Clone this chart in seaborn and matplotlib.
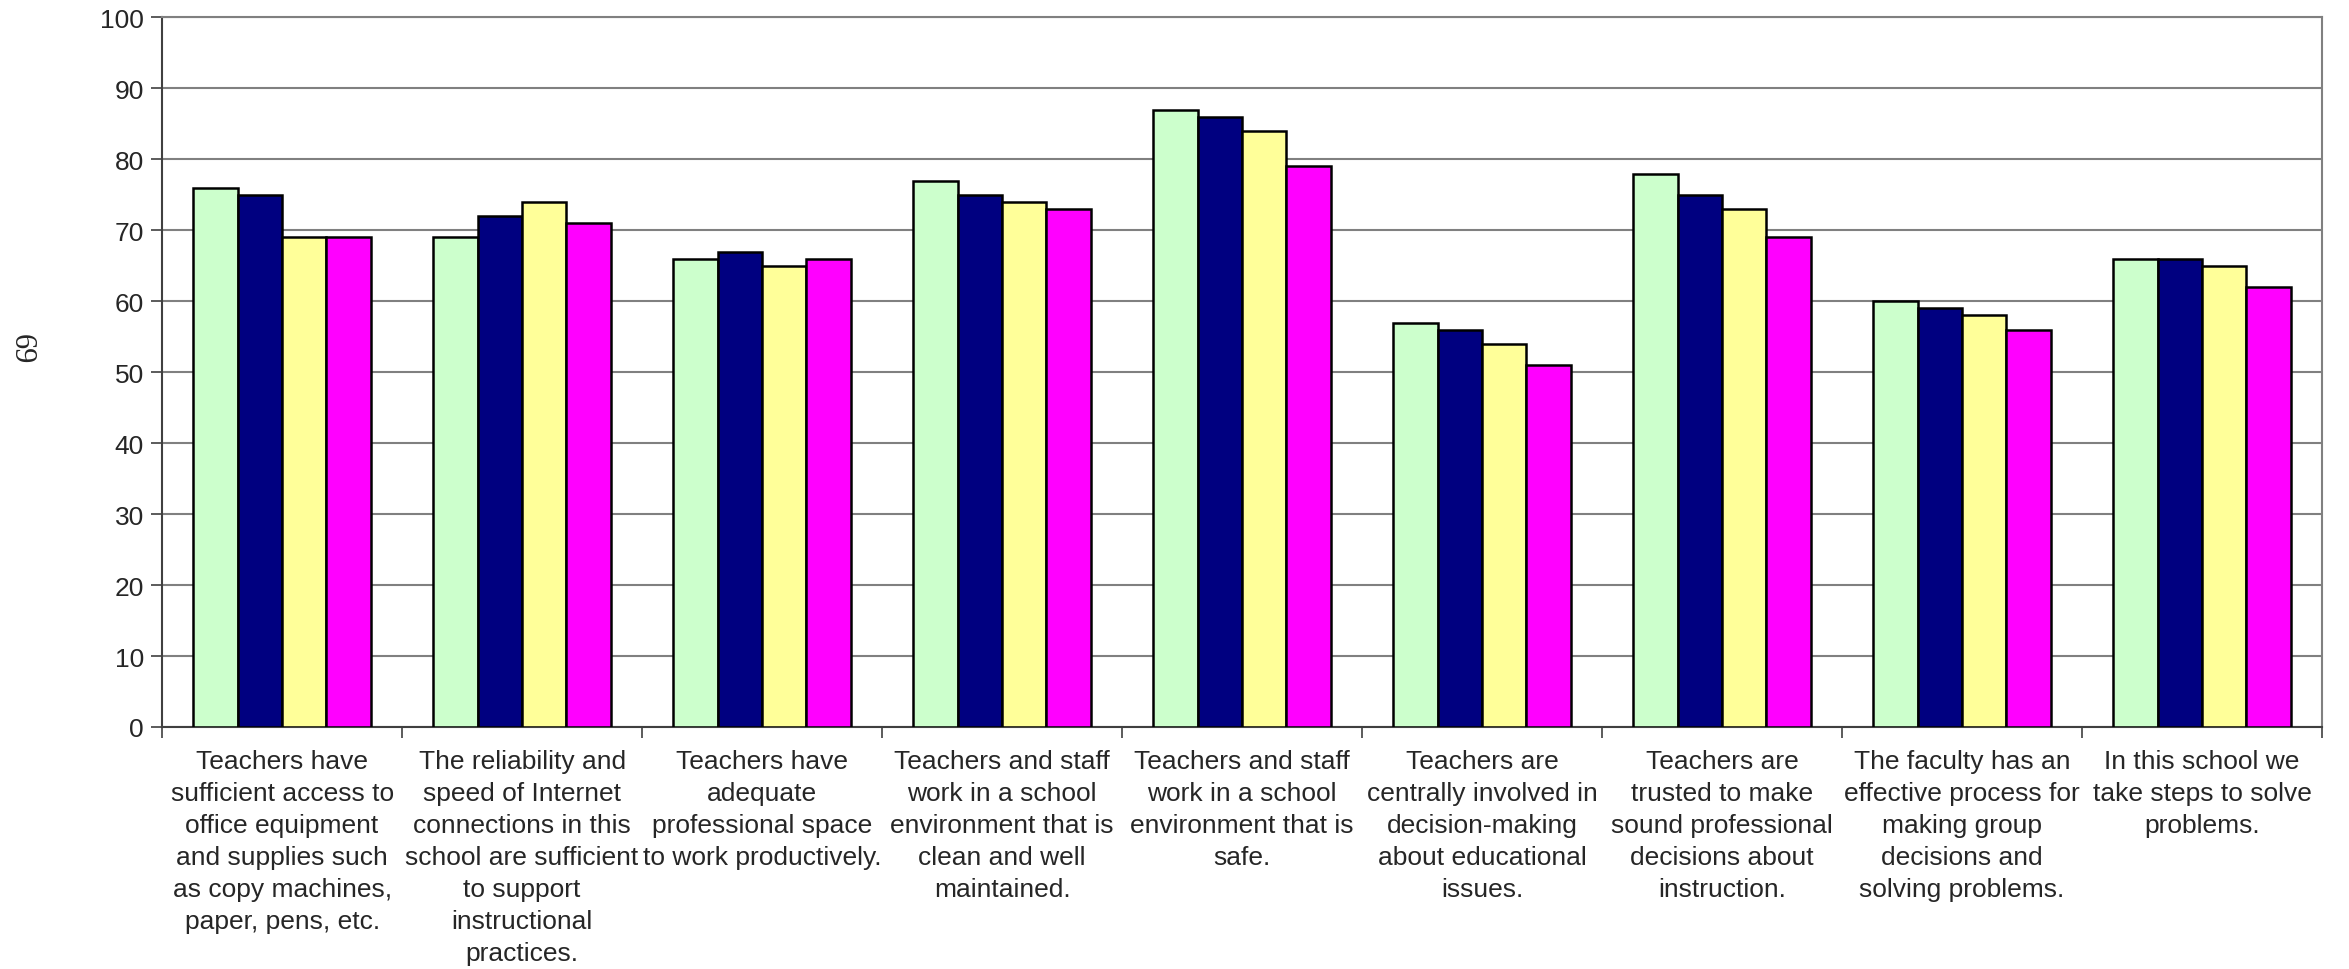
import numpy as np
import pandas as pd
import matplotlib
matplotlib.use("Agg")
import matplotlib.pyplot as plt
import seaborn as sns

categories = [
    "Teachers have\nsufficient access to\noffice equipment\nand supplies such\nas copy machines,\npaper, pens, etc.",
    "The reliability and\nspeed of Internet\nconnections in this\nschool are sufficient\nto support\ninstructional\npractices.",
    "Teachers have\nadequate\nprofessional space\nto work productively.",
    "Teachers and staff\nwork in a school\nenvironment that is\nclean and well\nmaintained.",
    "Teachers and staff\nwork in a school\nenvironment that is\nsafe.",
    "Teachers are\ncentrally involved in\ndecision-making\nabout educational\nissues.",
    "Teachers are\ntrusted to make\nsound professional\ndecisions about\ninstruction.",
    "The faculty has an\neffective process for\nmaking group\ndecisions and\nsolving problems.",
    "In this school we\ntake steps to solve\nproblems.",
]
series_names = ["Series 1", "Series 2", "Series 3", "Series 4"]
series1 = [76, 69, 66, 77, 87, 57, 78, 60, 66]
series2 = [75, 72, 67, 75, 86, 56, 75, 59, 66]
series3 = [69, 74, 65, 74, 84, 54, 73, 58, 65]
series4 = [69, 71, 66, 73, 79, 51, 69, 56, 62]
colors = ["#CCFFCC", "#000080", "#FFFF99", "#FF00FF"]
yticks = list(range(0, 101, 10))

rows = []
for name, vals in zip(series_names, [series1, series2, series3, series4]):
    for c, v in zip(categories, vals):
        rows.append({"category": c, "series": name, "value": v})
df = pd.DataFrame(rows)

sns.set_theme(style="white")
plt.rcParams["font.family"] = ["Liberation Sans Narrow", "Liberation Sans", "DejaVu Sans"]

fig = plt.figure(figsize=(23.49, 9.70), dpi=100)
ax = fig.add_axes([0.069, 0.2495, 0.9195, 0.7315])

sns.barplot(data=df, x="category", y="value", hue="series", order=categories,
            hue_order=series_names, palette=colors, saturation=1, width=0.74, gap=0,
            edgecolor="black", linewidth=1.8, legend=False, ax=ax, zorder=3)

ax.set_ylim(0, 100)
ax.set_xlim(-0.5, len(categories) - 0.5)
ax.set_yticks(yticks)
ax.set_yticklabels([str(t) for t in yticks], fontsize=19)
ax.yaxis.grid(True, color="#808080", linewidth=1.5, zorder=0)
ax.set_axisbelow(True)
ax.set_xlabel("")
ax.set_ylabel("")

ax.set_xticks(range(len(categories)))
ax.set_xticklabels(categories, fontsize=19, linespacing=1.42, va="top")
ax.tick_params(axis="x", which="major", length=0, pad=16)
ax.set_xticks(np.arange(-0.5, len(categories)), minor=True)
ax.tick_params(axis="x", which="minor", length=8, width=1.2, color="#404040", direction="out", bottom=True)
ax.tick_params(axis="y", length=8, width=1.2, color="#404040", direction="out", left=True, pad=5)

for side in ["top", "right"]:
    ax.spines[side].set_color("#808080")
    ax.spines[side].set_linewidth(1.5)
for side in ["left", "bottom"]:
    ax.spines[side].set_color("#404040")
    ax.spines[side].set_linewidth(1.5)

fig.text(0.009, 0.64, "69", rotation=-90, fontsize=22, family=["Liberation Serif", "DejaVu Serif"],
         va="center", ha="center")

fig.savefig("out.png", dpi=100, facecolor="white")
